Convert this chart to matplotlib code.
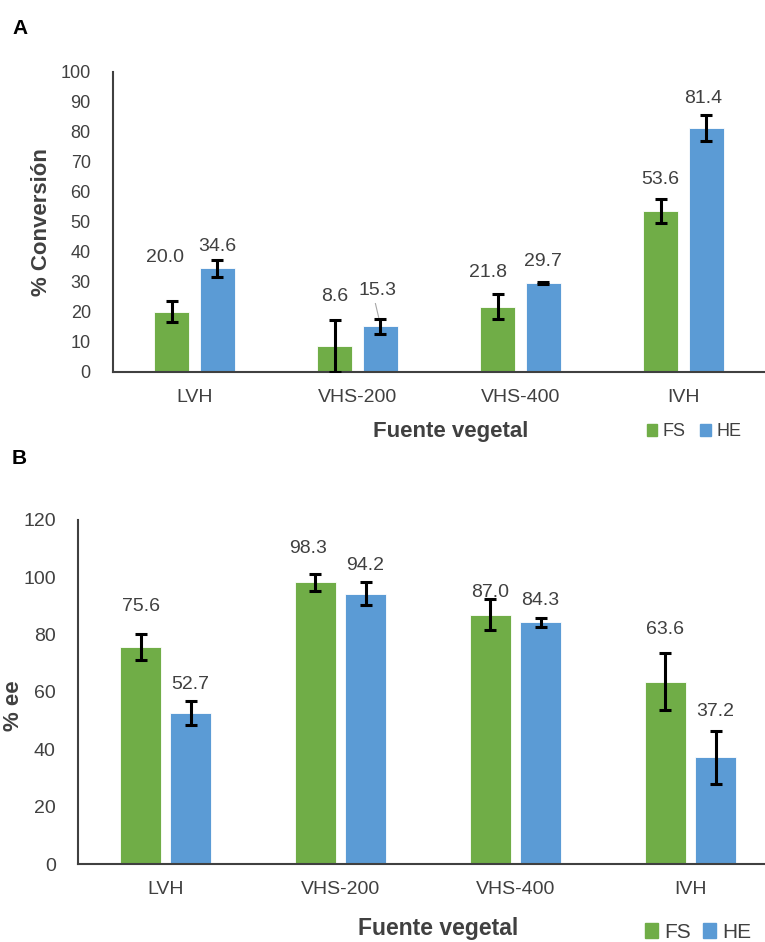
import matplotlib
matplotlib.use("Agg")
import matplotlib.pyplot as plt
import matplotlib.patches as mpatches
import numpy as np

plt.rcParams['font.family'] = ['Liberation Sans', 'DejaVu Sans']

categories = ["LVH", "VHS-200", "VHS-400", "IVH"]
series_names = ["FS", "HE"]

# panel A: % conversion
conv_fs = [20.0, 8.6, 21.8, 53.6]
conv_he = [34.6, 15.3, 29.7, 81.4]
conv_fs_err = [3.5, 8.6, 4.3, 4.0]
conv_he_err = [2.8, 2.5, 0.4, 4.3]

# panel B: % ee
ee_fs = [75.6, 98.3, 87.0, 63.6]
ee_he = [52.7, 94.2, 84.3, 37.2]
ee_fs_err = [4.5, 3.0, 5.5, 10.0]
ee_he_err = [4.2, 4.0, 1.5, 9.2]

# where the value labels sit (data units)
conv_lab_fs = [38.0, 25.0, 33.3, 64.0]
conv_lab_he = [41.7, 27.3, 36.7, 91.0]
conv_shift_fs = [-0.04, 0.0, -0.06, 0.0]
conv_shift_he = [0.0, -0.02, 0.0, -0.02]
ee_lab_fs = [89.7, 109.9, 94.6, 81.7]
ee_lab_he = [62.6, 104.0, 91.8, 53.2]
ee_shift_fs = [0.0, -0.04, 0.0, 0.0]
ee_shift_he = [0.0, 0.0, 0.0, 0.0]

GREEN = "#70AD47"
BLUE = "#5B9BD5"
TXT = "#404040"


def draw_panel(ax, fs, he, fs_err, he_err, lab_fs, lab_he, sh_fs, sh_he,
               ymax, ystep, ylabel, off, width, ytick_size):
    x = np.arange(len(categories))
    for vals, errs, col, sgn, labs, shifts in [
            (fs, fs_err, GREEN, -1, lab_fs, sh_fs),
            (he, he_err, BLUE, 1, lab_he, sh_he)]:
        pos = x + sgn * off
        ax.bar(pos, vals, width=width, color=col, edgecolor="white",
               linewidth=0.6, zorder=2)
        ax.errorbar(pos, vals, yerr=errs, fmt="none", ecolor="black",
                    elinewidth=2.2, capsize=4, capthick=2.2, zorder=3)
        for p, v, ly, s in zip(pos, vals, labs, shifts):
            ax.text(p + s, ly, f"{v:.1f}", ha="center", va="center",
                    fontsize=14, color=TXT, zorder=4)
    ax.set_xlim(-0.5, len(categories) - 0.5)
    ax.set_ylim(0, ymax)
    ax.set_yticks(np.arange(0, ymax + 1, ystep))
    ax.set_xticks(x)
    ax.set_xticklabels(categories)
    ax.tick_params(axis="both", length=0, colors=TXT)
    ax.tick_params(axis="y", pad=16, labelsize=ytick_size)
    ax.tick_params(axis="x", pad=12, labelsize=14)
    for sp in ["top", "right"]:
        ax.spines[sp].set_visible(False)
    ax.spines["left"].set_color("#404040")
    ax.spines["bottom"].set_color("#404040")
    ax.spines["left"].set_linewidth(1.5)
    ax.spines["bottom"].set_linewidth(1.5)
    ax.set_ylabel(ylabel, fontsize=16, fontweight="bold", color=TXT)


fig = plt.figure(figsize=(7.65, 9.42), dpi=100)

axA = fig.add_axes([0.1477, 0.6051, 0.8523, 0.3185])
draw_panel(axA, conv_fs, conv_he, conv_fs_err, conv_he_err,
           conv_lab_fs, conv_lab_he, conv_shift_fs, conv_shift_he,
           100, 10, "% Conversión", 0.14, 0.215, 13)
axA.yaxis.set_label_coords(-0.094, 0.5)
# small leader line for the 15.3 label
axA.plot([1 + 0.14 - 0.03, 1 + 0.14 - 0.01], [conv_lab_he[1] - 4.5, conv_he[1] + conv_he_err[1] + 0.4],
         color="#A6A6A6", lw=0.8, zorder=4)

axB = fig.add_axes([0.102, 0.0828, 0.915, 0.3652])
draw_panel(axB, ee_fs, ee_he, ee_fs_err, ee_he_err,
           ee_lab_fs, ee_lab_he, ee_shift_fs, ee_shift_he,
           120, 20, "% ee", 0.143, 0.23, 14)
axB.yaxis.set_label_coords(-0.077, 0.46)

fig.text(451 / 765, 1 - 432 / 942, "Fuente vegetal", ha="center", va="center",
         fontsize=16, fontweight="bold", color=TXT)
fig.text(438 / 765, 1 - 929 / 942, "Fuente vegetal", ha="center", va="center",
         fontsize=16.5, fontweight="bold", color=TXT)

fig.text(12 / 765, 1 - 28 / 942, "A", ha="left", va="center", fontsize=15, fontweight="bold")
fig.text(12 / 765, 1 - 458 / 942, "B", ha="left", va="center", fontsize=15, fontweight="bold")

handles = [mpatches.Patch(color=GREEN, label=series_names[0]),
           mpatches.Patch(color=BLUE, label=series_names[1])]
fig.legend(handles=handles, loc="center", bbox_to_anchor=(694 / 765, 1 - 432 / 942),
           ncol=2, frameon=False, fontsize=13, handlelength=0.6, handleheight=0.6,
           handletextpad=0.3, columnspacing=0.8, labelcolor=TXT)
fig.legend(handles=handles, loc="center", bbox_to_anchor=(698 / 765, 1 - 932 / 942),
           ncol=2, frameon=False, fontsize=15, handlelength=0.6, handleheight=0.7,
           handletextpad=0.3, columnspacing=0.6, labelcolor=TXT)

fig.savefig("out.png", dpi=100)
